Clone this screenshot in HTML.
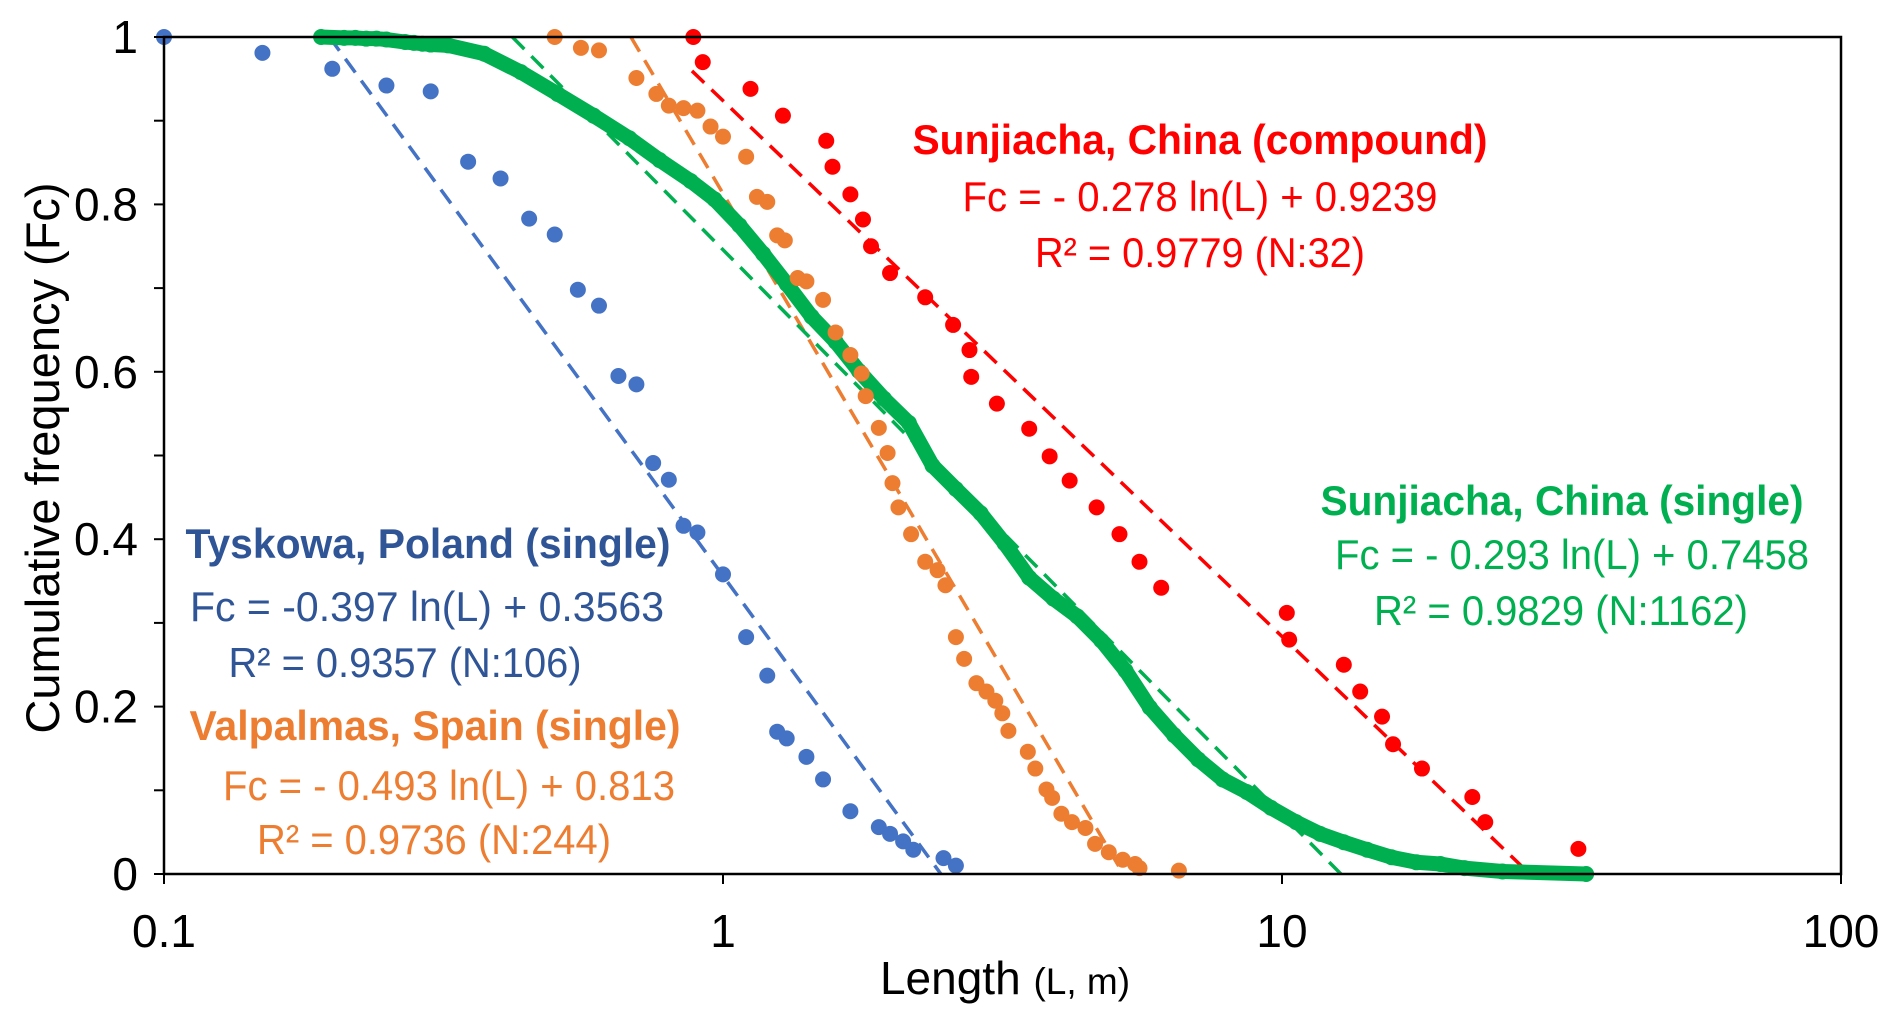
<!DOCTYPE html>
<html><head><meta charset="utf-8"><style>
body{margin:0;background:#fff}
svg text{font-family:"Liberation Sans",Arial,sans-serif}
</style></head><body>
<svg id="chart" width="1892" height="1017" xmlns="http://www.w3.org/2000/svg">
<g id="trend"></g>
<g id="pts"></g>
<g id="axes"></g>
<g id="labels"></g>
</svg>
<script>
const blueL=[0.1,0.15,0.2,0.25,0.3,0.35,0.4,0.45,0.5,0.55,0.6,0.65,0.7,0.75,0.8,0.85,0.9,1.0,1.1,1.2,1.25,1.3,1.41,1.51,1.69,1.9,1.99,2.1,2.19,2.48,2.61];
const blueF=[1,0.981,0.962,0.942,0.935,0.851,0.831,0.783,0.764,0.698,0.679,0.595,0.585,0.491,0.471,0.416,0.408,0.358,0.283,0.237,0.17,0.162,0.14,0.113,0.075,0.056,0.048,0.039,0.029,0.019,0.01];
const orangeL=[0.5,0.557,0.6,0.7,0.76,0.8,0.85,0.9,0.95,1.0,1.1,1.15,1.2,1.25,1.29,1.36,1.41,1.51,1.59,1.69,1.77,1.8,1.9,1.97,2.01,2.06,2.17,2.3,2.42,2.5,2.61,2.7,2.84,2.96,3.07,3.16,3.24,3.51,3.62,3.79,3.88,4.03,4.21,4.45,4.63,4.9,5.19,5.46,5.56,6.54];
const orangeF=[1,0.987,0.984,0.951,0.932,0.918,0.915,0.912,0.893,0.881,0.857,0.809,0.803,0.763,0.757,0.712,0.708,0.686,0.647,0.62,0.598,0.571,0.533,0.503,0.467,0.438,0.406,0.373,0.363,0.345,0.283,0.257,0.228,0.218,0.207,0.192,0.171,0.146,0.126,0.101,0.091,0.072,0.062,0.055,0.036,0.026,0.017,0.012,0.007,0.004];
const redL=[0.885,0.92,1.12,1.28,1.53,1.57,1.69,1.78,1.84,1.99,2.3,2.58,2.76,2.78,3.09,3.53,3.84,4.17,4.66,5.12,5.56,6.08,10.2,10.3,12.9,13.8,15.1,15.8,17.8,21.9,23.1,33.9];
const redF=[1,0.97,0.938,0.906,0.876,0.845,0.812,0.782,0.75,0.718,0.689,0.656,0.626,0.594,0.562,0.532,0.499,0.47,0.438,0.406,0.373,0.342,0.312,0.28,0.25,0.218,0.188,0.155,0.126,0.092,0.062,0.03];
const greenL=[0.191,0.21,0.22,0.23,0.24,0.25,0.27,0.28,0.29,0.3,0.322,0.374,0.435,0.506,0.587,0.68,0.77,0.875,0.966,1.07,1.18,1.3,1.44,1.59,1.75,1.94,2.15,2.37,2.61,2.89,3.19,3.53,3.9,4.3,4.75,5.25,5.8,6.41,7.08,7.83,8.65,9.56,10.6,11.7,12.9,14.2,15.7,17.4,19.2,21.2,24.8,35];
const greenF=[1,0.999,0.999,0.998,0.998,0.997,0.994,0.993,0.992,0.991,0.99,0.98,0.958,0.932,0.906,0.879,0.853,0.828,0.806,0.775,0.741,0.705,0.666,0.636,0.601,0.568,0.539,0.488,0.46,0.431,0.395,0.354,0.329,0.308,0.279,0.243,0.199,0.166,0.137,0.113,0.098,0.079,0.062,0.048,0.038,0.029,0.02,0.014,0.012,0.007,0.003,0];
const xTicks=[0.1,1,10,100];
const xTickLabels=["0.1","1","10","100"];
const yTicks=[0,0.2,0.4,0.6,0.8,1];
const yTickLabels=["0","0.2","0.4","0.6","0.8","1"];
const fits=[{name:'blue',a:-0.397,b:0.3563,c:'#4472C4',l0:0.1},{name:'orange',a:-0.493,b:0.813,c:'#ED7D31',l0:0.1},{name:'green',a:-0.293,b:0.7458,c:'#00B050',l0:0.1},{name:'red',a:-0.278,b:0.9239,c:'#FF0000',l0:0.88}];

const X0=164,X1=1841,Y0=874,Y1=37;
const xs=L=>X0+(Math.log10(L)+1)/3*(X1-X0);
const ys=F=>Y0-F*(Y0-Y1);
const NS='http://www.w3.org/2000/svg';
function mk(t,p,a){const e=document.createElementNS(NS,t);for(const k in a)e.setAttribute(k,a[k]);p.appendChild(e);return e;}
const tg=document.getElementById('trend'),pg=document.getElementById('pts'),ag=document.getElementById('axes'),lg=document.getElementById('labels');

fits.forEach(f=>{
  const La=Math.max(f.l0,Math.exp((1-f.b)/f.a)), Lb=Math.exp(-f.b/f.a);
  const ln=mk('line',tg,{x1:xs(La),y1:ys(f.a*Math.log(La)+f.b),x2:xs(Lb),y2:ys(0),stroke:f.c,'stroke-width':3.5,'stroke-dasharray':'17 10'});
  
  
});
function series(L,F,c,name,line){
  if(line){const pl=mk('polyline',pg,{points:L.map((l,i)=>xs(l)+','+ys(F[i])).join(' '),fill:'none',stroke:c,'stroke-width':15,'stroke-linejoin':'round','stroke-linecap':'round'});
    
    }
  L.forEach((l,i)=>{const d=mk('circle',pg,{cx:xs(l),cy:ys(F[i]),r:8,fill:c});
    
    });
}
series(greenL,greenF,'#00B050','green',true);
series(orangeL,orangeF,'#ED7D31','orange',false);
series(blueL,blueF,'#4472C4','blue',false);
series(redL,redF,'#FF0000','red',false);

const fr=mk('rect',ag,{x:X0,y:Y1,width:X1-X0,height:Y0-Y1,fill:'none',stroke:'#000','stroke-width':2.5});


for(let i=0;i<=10;i++){const y=ys(i/10);mk('line',ag,{x1:X0-10,x2:X0,y1:y,y2:y,stroke:'#000','stroke-width':2});}
yTicks.forEach((v,i)=>{const t=mk('text',ag,{x:X0-26,y:ys(v)+16,'text-anchor':'end','font-size':46,fill:'#000'});t.textContent=yTickLabels[i];
  
  });
xTicks.forEach((v,i)=>{mk('line',ag,{x1:xs(v),x2:xs(v),y1:Y0,y2:Y0+10,stroke:'#000','stroke-width':2});
  const t=mk('text',ag,{x:xs(v),y:947,'text-anchor':'middle','font-size':46,fill:'#000'});t.textContent=xTickLabels[i];
  
  });

function txt(s,x,y,c,bold,w,name){const t=mk('text',lg,{x:x,y:y,'text-anchor':'middle','font-size':42,'font-weight':bold?'bold':'normal',fill:c,textLength:w,lengthAdjust:'spacingAndGlyphs'});t.textContent=s;
  
  }
txt('Sunjiacha, China (compound)',1200,154,'#FF0000',true,575,'red-series-title');
txt('Fc = - 0.278 ln(L) + 0.9239',1200,211,'#FF0000',false,475,'red-equation');
txt('R² = 0.9779 (N:32)',1200,267,'#FF0000',false,330,'red-r-squared');
txt('Sunjiacha, China (single)',1562,515,'#00B050',true,483,'green-series-title');
txt('Fc = - 0.293 ln(L) + 0.7458',1572,569,'#00B050',false,474,'green-equation');
txt('R² = 0.9829 (N:1162)',1561,625,'#00B050',false,374,'green-r-squared');
txt('Tyskowa, Poland (single)',428,558,'#2F5597',true,485,'blue-series-title');
txt('Fc = -0.397 ln(L) + 0.3563',427,621,'#2F5597',false,474,'blue-equation');
txt('R² = 0.9357 (N:106)',405,677,'#2F5597',false,353,'blue-r-squared');
txt('Valpalmas, Spain (single)',435,740,'#ED7D31',true,491,'orange-series-title');
txt('Fc = - 0.493 ln(L) + 0.813',449,800,'#ED7D31',false,452,'orange-equation');
txt('R² = 0.9736 (N:244)',434,854,'#ED7D31',false,354,'orange-r-squared');
const xt=mk('text',lg,{x:1005,y:994,'text-anchor':'middle','font-size':46,fill:'#000'});
xt.innerHTML='Length <tspan font-size="37">(L, m)</tspan>';


const yt=mk('text',lg,{x:0,y:0,'text-anchor':'middle','font-size':47,fill:'#000',transform:'translate(59,458) rotate(-90)'});
yt.textContent='Cumulative frequency (Fc)';


</script>
</body></html>
